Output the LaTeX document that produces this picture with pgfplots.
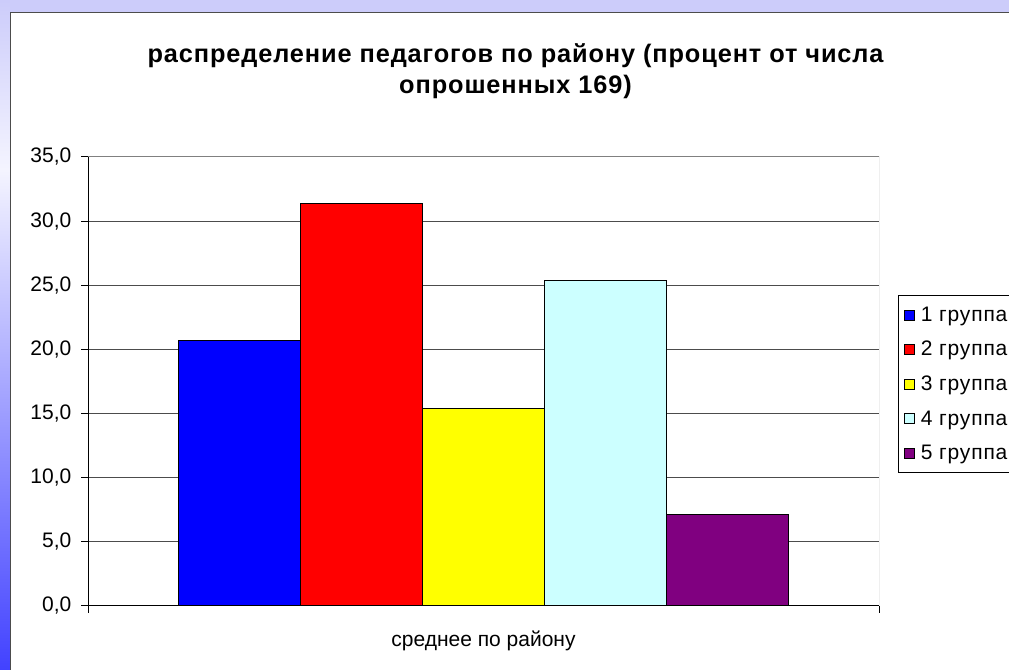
\documentclass[border=0pt]{standalone}
\usepackage{fontspec}
\setmainfont{Liberation Sans}
\usepackage{pgfplots}
\pgfplotsset{compat=1.18}
\definecolor{bgtop}{RGB}{204,204,250}
\definecolor{bgmid}{RGB}{244,244,255}
\definecolor{bgbot}{RGB}{66,66,255}
\definecolor{c1}{RGB}{0,0,255}
\definecolor{c2}{RGB}{255,0,0}
\definecolor{c3}{RGB}{255,255,0}
\definecolor{c4}{RGB}{204,255,255}
\definecolor{c5}{RGB}{128,0,128}
\begin{document}
\begin{tikzpicture}
\useasboundingbox (0,0) rectangle (756.75pt,502.5pt);
\clip (0,0) rectangle (756.75pt,502.5pt);
\begin{scope}[x=0.75pt,y=0.75pt]
\fill[bgtop] (0,0) rectangle (1009,670);
\shade[top color=bgtop, bottom color=bgmid] (0,500) rectangle (10,670);
\shade[top color=bgmid, bottom color=bgbot] (0,0) rectangle (10,500);
\fill[white] (10,0) rectangle (1009,657);
\draw[black!70, line width=0.75pt] (10,0) -- (10,657) -- (1009,657);
\node[font=\bfseries\fontsize{19}{22}\selectfont\addfontfeature{LetterSpace=3.5}, anchor=base, inner sep=0pt] at (515.5,607.7) {распределение педагогов по району (процент от числа};
\node[font=\bfseries\fontsize{19}{22}\selectfont\addfontfeature{LetterSpace=3.5}, anchor=base, inner sep=0pt] at (515.5,576) {опрошенных 169)};
\end{scope}
\begin{axis}[
  at={(66pt,48pt)}, anchor=south west,
  width=593.25pt, height=336.75pt, scale only axis,
  xmin=-0.5, xmax=0.5, ymin=0, ymax=35,
  ytick={0,5,10,15,20,25,30,35},
  xtick={-0.5,0.5}, xticklabels={},
  /pgf/number format/.cd, fixed, fixed zerofill, precision=1, use comma, assume math mode=true,
  /pgfplots/.cd,
  tick label style={font=\fontsize{15.75}{19}\selectfont, black},
  yticklabel style={xshift=-3.75pt},
  tick align=outside, major tick length=5.25pt,
  tick style={black, line width=0.75pt},
  ymajorgrids, grid style={black!70, line width=0.75pt},
  axis x line*=bottom, axis y line*=left,
  axis line style={-, black, line width=0.75pt},
  ybar=0pt, bar width=91.5pt,
  xlabel={среднее по району},
  xlabel style={font=\fontsize{15.75}{19}\selectfont, at={(axis description cs:0.5,0)}, anchor=base, yshift=-30.75pt},
  legend style={at={(axis description cs:1.024,0.6927)}, anchor=north west, draw=black, line width=0.75pt, fill=white,
    font=\fontsize{15.75}{19}\selectfont\addfontfeature{LetterSpace=4}, row sep=9.5pt, inner xsep=4pt, inner ysep=6.5pt},
  legend cell align=left,
  legend image code/.code={\draw[#1,draw=black,line width=0.75pt] (0pt,-3.75pt) rectangle (7.5pt,3.75pt);},
]
\addplot[fill=c1, draw=black, line width=0.75pt] coordinates {(0,20.7)};
\addplot[fill=c2, draw=black, line width=0.75pt] coordinates {(0,31.4)};
\addplot[fill=c3, draw=black, line width=0.75pt] coordinates {(0,15.4)};
\addplot[fill=c4, draw=black, line width=0.75pt] coordinates {(0,25.4)};
\addplot[fill=c5, draw=black, line width=0.75pt] coordinates {(0,7.1)};
\legend{\hspace{2.5pt}1 группа\hspace{15pt}, \hspace{2.5pt}2 группа\hspace{15pt}, \hspace{2.5pt}3 группа\hspace{15pt}, \hspace{2.5pt}4 группа\hspace{15pt}, \hspace{2.5pt}5 группа\hspace{15pt}}
\draw[gray, line width=0.75pt] (rel axis cs:0,1) -- (rel axis cs:1,1) -- (rel axis cs:1,0);
\end{axis}
\end{tikzpicture}
\end{document}
